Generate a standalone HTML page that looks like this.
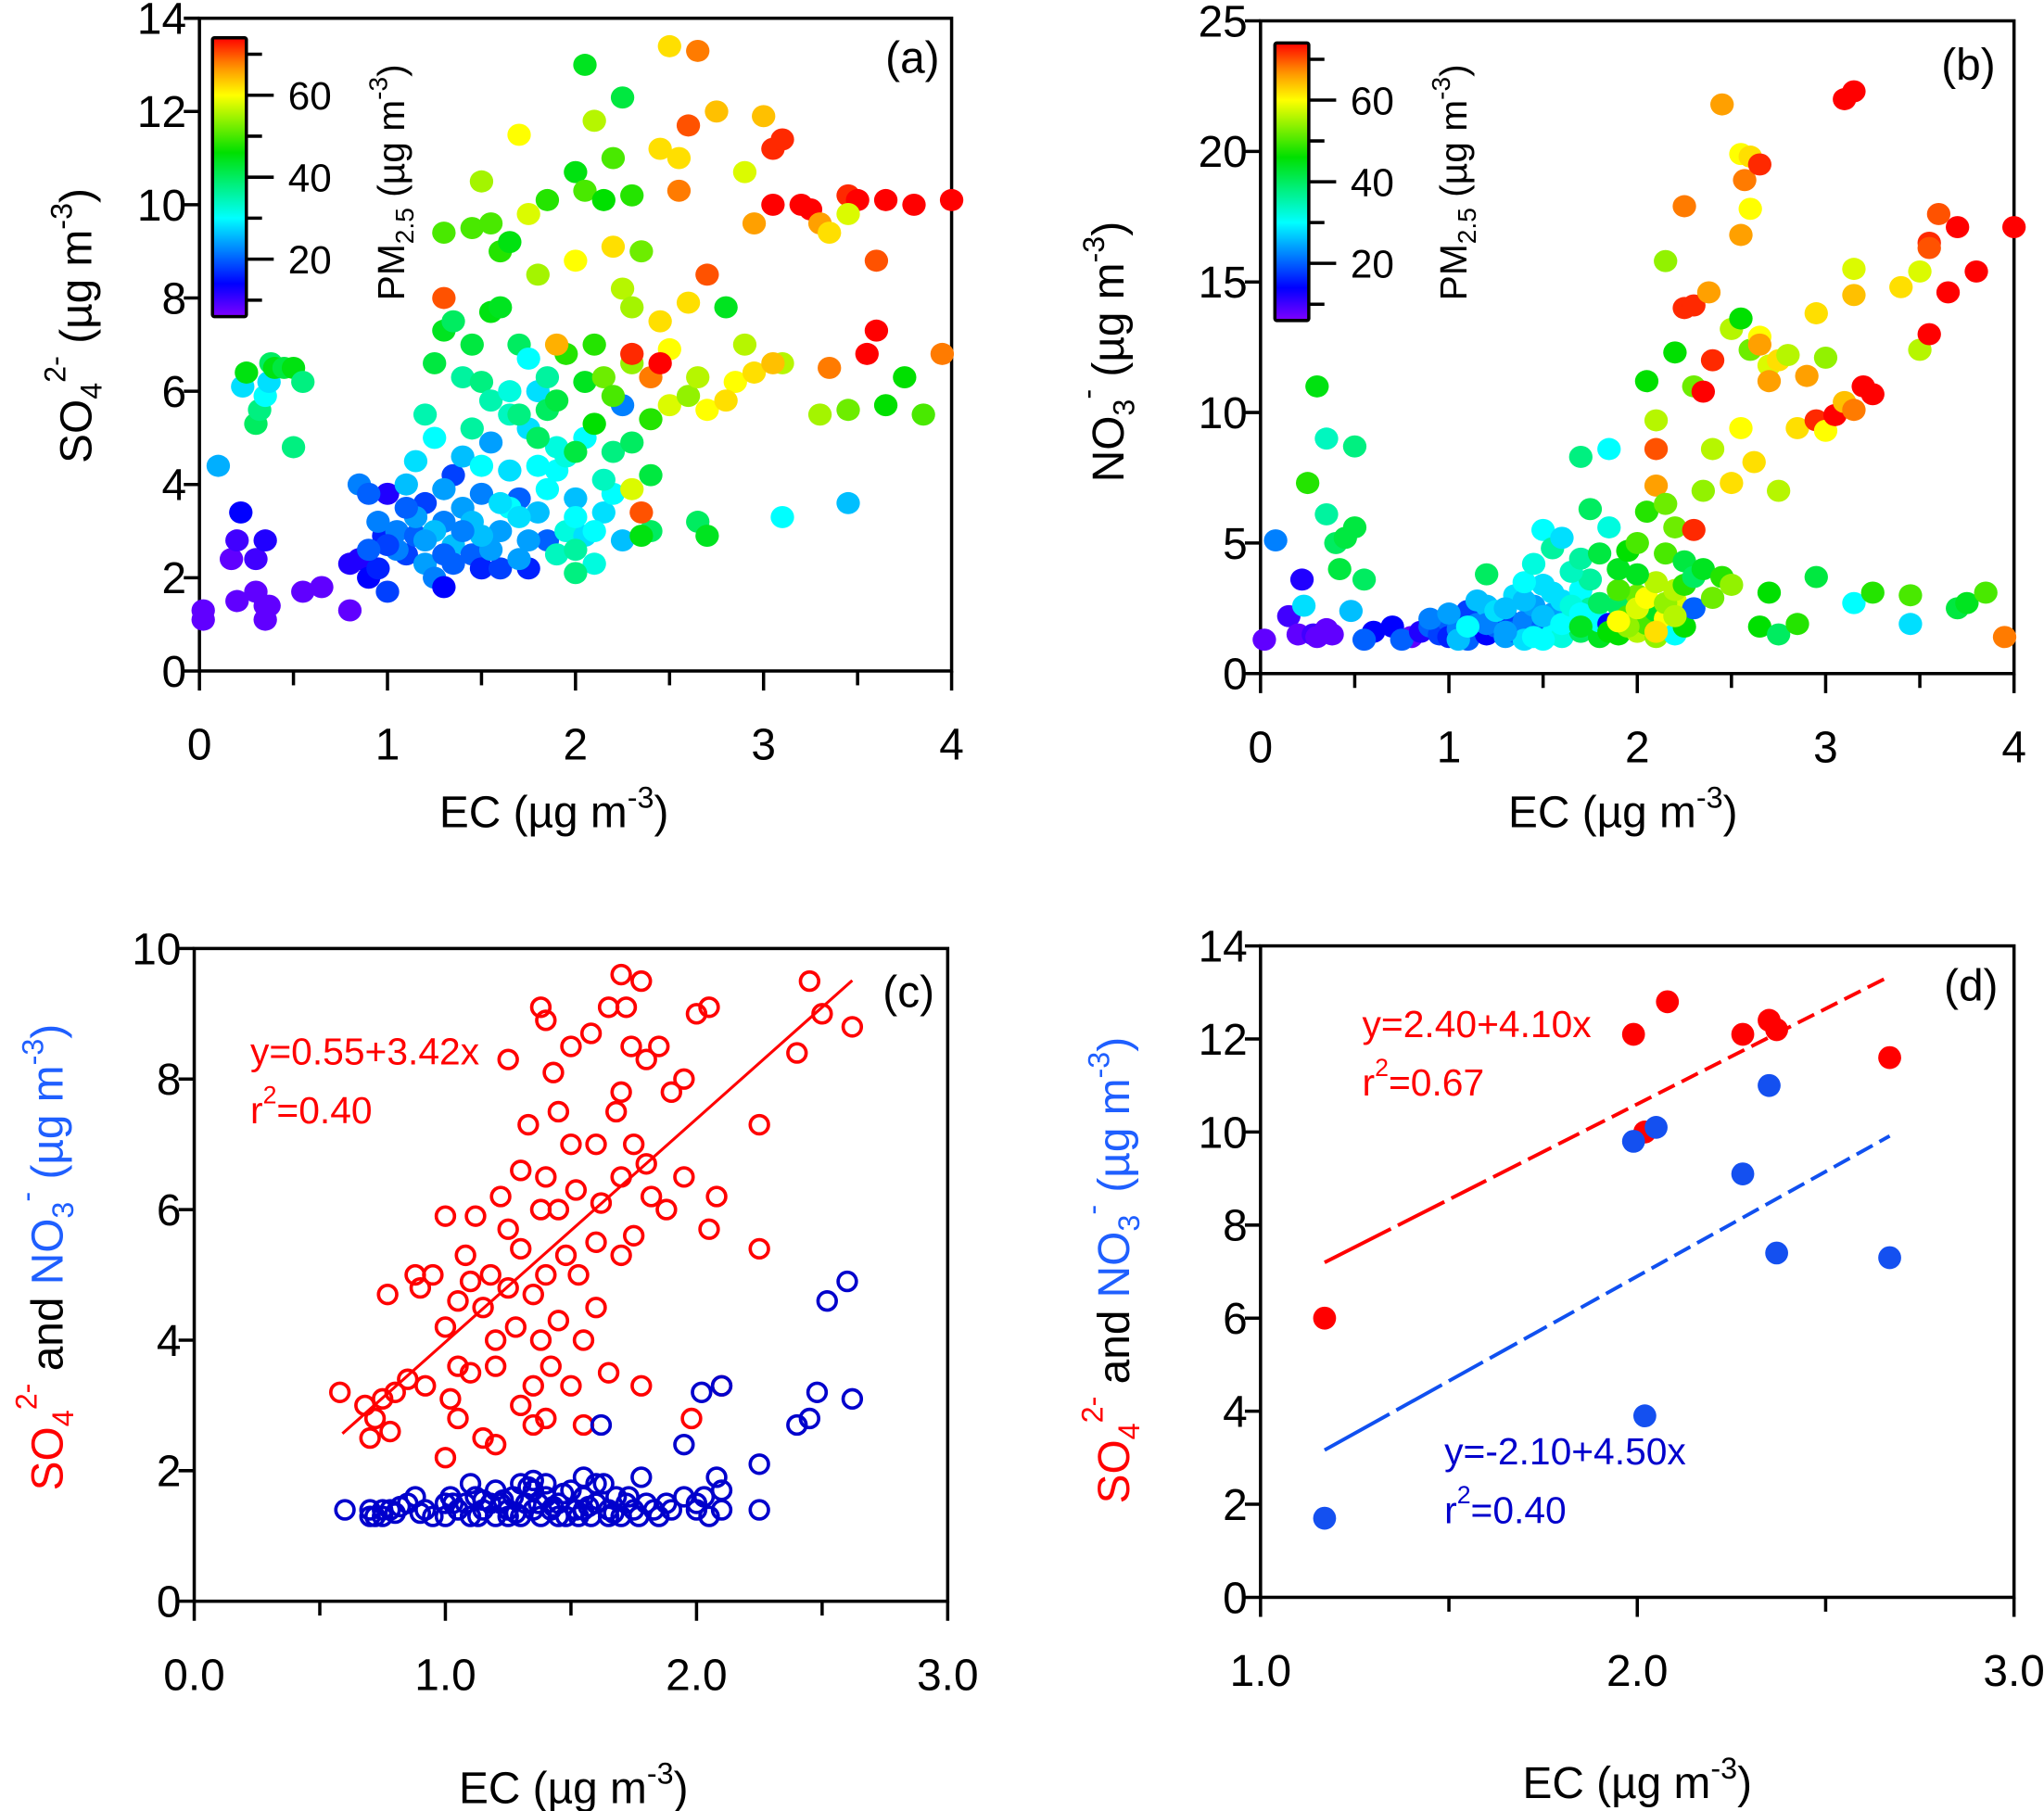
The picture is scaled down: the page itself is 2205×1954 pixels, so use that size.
<!DOCTYPE html>
<html><head><meta charset="utf-8">
<style>
html,body{margin:0;padding:0;background:#fff;}
svg{display:block;font-family:"Liberation Sans",Arial,sans-serif;}
</style></head>
<body>
<svg id="chart" xmlns="http://www.w3.org/2000/svg" width="2205" height="1954" viewBox="0 0 1568 1390" preserveAspectRatio="none">
<defs>
<linearGradient id="cmap" x1="0" y1="1" x2="0" y2="0"></linearGradient>
</defs>
<g id="static" font-size="34" fill="#000">
  <text transform="translate(70,250) rotate(-90)" text-anchor="middle">SO<tspan font-size="23" dy="8">4</tspan><tspan font-size="23" dy="-28">2-</tspan><tspan dy="20"> (µg m</tspan><tspan font-size="23" dy="-15">-3</tspan><tspan dy="15">)</tspan></text>
  <text x="425" y="635" text-anchor="middle">EC (µg m<tspan font-size="23" dy="-15">-3</tspan><tspan dy="15">)</tspan></text>
  <text transform="translate(310,140) rotate(-90)" text-anchor="middle" font-size="29">PM<tspan font-size="20" dy="7">2.5</tspan><tspan dy="-7"> (µg m</tspan><tspan font-size="20" dy="-13">-3</tspan><tspan dy="13">)</tspan></text>
  <text x="700" y="56" text-anchor="middle">(a)</text>
  <text transform="translate(862,270) rotate(-90)" text-anchor="middle">NO<tspan font-size="23" dy="8">3</tspan><tspan font-size="23" dy="-28">-</tspan><tspan dy="20">  (µg m</tspan><tspan font-size="23" dy="-15">-3</tspan><tspan dy="15">)</tspan></text>
  <text x="1245" y="635" text-anchor="middle">EC (µg m<tspan font-size="23" dy="-15">-3</tspan><tspan dy="15">)</tspan></text>
  <text transform="translate(1125,140) rotate(-90)" text-anchor="middle" font-size="29">PM<tspan font-size="20" dy="7">2.5</tspan><tspan dy="-7"> (µg m</tspan><tspan font-size="20" dy="-13">-3</tspan><tspan dy="13">)</tspan></text>
  <text x="1510" y="61" text-anchor="middle">(b)</text>
  <text transform="translate(48,965) rotate(-90)" text-anchor="middle"><tspan fill="#ff0000">SO</tspan><tspan fill="#ff0000" font-size="23" dy="8">4</tspan><tspan fill="#ff0000" font-size="23" dy="-28">2-</tspan><tspan dy="20"> and </tspan><tspan fill="#1f5fff">NO</tspan><tspan fill="#1f5fff" font-size="23" dy="8">3</tspan><tspan fill="#1f5fff" font-size="23" dy="-28">-</tspan><tspan fill="#1f5fff" dy="20"> (µg m</tspan><tspan fill="#1f5fff" font-size="23" dy="-15">-3</tspan><tspan fill="#1f5fff" dy="15">)</tspan></text>
  <text x="440" y="1384" text-anchor="middle">EC (µg m<tspan font-size="23" dy="-15">-3</tspan><tspan dy="15">)</tspan></text>
  <text x="697" y="773" text-anchor="middle">(c)</text>
  <text x="192" y="817" fill="#ff0000" font-size="29">y=0.55+3.42x</text>
  <text x="192" y="862" fill="#ff0000" font-size="29">r<tspan font-size="19" dy="-15">2</tspan><tspan dy="15">=0.40</tspan></text>
  <text transform="translate(866,975) rotate(-90)" text-anchor="middle"><tspan fill="#ff0000">SO</tspan><tspan fill="#ff0000" font-size="23" dy="8">4</tspan><tspan fill="#ff0000" font-size="23" dy="-28">2-</tspan><tspan dy="20"> and </tspan><tspan fill="#1f5fff">NO</tspan><tspan fill="#1f5fff" font-size="23" dy="8">3</tspan><tspan fill="#1f5fff" font-size="23" dy="-28">-</tspan><tspan fill="#1f5fff" dy="20"> (µg m</tspan><tspan fill="#1f5fff" font-size="23" dy="-15">-3</tspan><tspan fill="#1f5fff" dy="15">)</tspan></text>
  <text x="1256" y="1380" text-anchor="middle">EC (µg m<tspan font-size="23" dy="-15">-3</tspan><tspan dy="15">)</tspan></text>
  <text x="1512" y="768" text-anchor="middle">(d)</text>
  <text x="1045" y="796" fill="#ff0000" font-size="29">y=2.40+4.10x</text>
  <text x="1045" y="841" fill="#ff0000" font-size="29">r<tspan font-size="19" dy="-15">2</tspan><tspan dy="15">=0.67</tspan></text>
  <text x="1108" y="1124" fill="#0000cc" font-size="29">y=-2.10+4.50x</text>
  <text x="1108" y="1169" fill="#0000cc" font-size="29">r<tspan font-size="19" dy="-15">2</tspan><tspan dy="15">=0.40</tspan></text>
</g>
</svg>
<script>
// ---------- Panel (a) data: EC, SO4, PM2.5 ----------
const aEC=[0.02,0.02,0.17,0.2,0.2,0.22,0.3,0.3,0.35,0.35,0.35,0.37,0.55,0.65,0.8,0.8,0.85,0.9,0.95,1.0,0.98,1.0,
0.1,0.23,0.25,0.3,0.32,0.35,0.37,0.38,0.4,0.45,0.5,0.5,0.55,
0.85,0.9,0.95,1.05,1.1,1.15,1.2,1.2,1.25,1.3,1.3,1.35,1.35,1.4,1.4,1.45,1.5,1.5,1.55,1.6,1.6,1.65,1.7,1.75,1.75,1.8,1.8,1.85,1.9,1.95,2.0,2.05,2.1,2.15,2.2,2.25,2.25,
1.05,1.15,1.25,1.35,1.45,1.55,1.65,1.75,1.85,1.95,2.05,2.15,1.1,1.3,1.5,1.7,1.9,2.1,1.2,1.4,1.6,1.8,2.0,2.2,1.25,1.45,1.65,1.85,
1.15,1.2,1.25,1.3,1.35,1.4,1.45,1.5,1.55,1.55,1.6,1.65,1.7,1.7,1.75,1.8,1.85,1.9,1.95,2.0,2.05,2.1,2.1,2.15,2.2,2.3,2.3,2.4,2.4,2.4,1.0,1.1,0.9,1.7,2.0,1.3,1.5,1.9,2.0,
1.3,1.45,1.5,1.55,1.6,1.65,1.7,1.75,1.8,1.85,2.0,2.05,2.05,2.1,2.15,2.2,2.25,2.3,2.35,2.2,2.25,2.0,2.3,2.45,2.5,2.55,2.55,2.6,2.65,2.75,2.9,3.0,3.05,3.1,2.95,3.05,3.2,3.25,3.3,3.35,3.45,3.5,3.65,3.8,4.0,3.45,3.6,3.6,3.55,3.95,3.75,3.65,3.85,3.45,3.3,3.35,3.1,2.85,2.95,3.05,2.7,2.6,2.8,2.9,2.5,2.45,2.5,2.6,2.7,2.8,2.65,3.45,3.1,2.65,2.35,2.4,2.45,2.3,1.3,1.9,2.7,2.3,2.35];
const aSO4=[1.3,1.1,2.4,1.5,2.8,3.4,2.4,1.7,1.4,1.1,2.8,1.4,1.7,1.8,1.3,2.3,2.4,2.0,2.2,1.7,2.9,3.8,
4.4,6.1,6.4,5.3,5.6,5.9,6.2,6.6,6.5,6.5,6.5,4.8,6.2,
4.0,3.8,3.2,3.0,2.5,2.9,3.6,2.3,2.0,1.8,3.2,4.2,2.7,3.5,4.6,2.5,3.8,2.2,4.9,3.0,2.2,4.3,3.7,2.2,5.2,3.4,6.0,2.8,4.3,3.0,3.7,5.0,2.3,3.4,3.8,5.7,2.8,
2.6,3.3,3.0,2.3,3.2,2.6,3.5,2.8,3.9,4.6,2.9,4.1,4.0,2.5,2.9,3.3,4.8,3.0,2.8,3.0,3.6,4.4,3.3,4.7,5.0,5.2,5.5,5.6,
4.5,5.5,6.6,7.3,7.5,6.3,7.0,6.2,7.7,5.8,7.8,6.0,7.0,5.5,6.7,5.0,6.3,5.8,6.8,4.7,6.2,5.3,7.0,6.3,5.9,6.6,4.9,5.4,4.2,3.0,2.7,3.5,2.6,2.4,2.1,3.9,4.4,2.5,2.6,
9.4,9.5,10.5,9.6,9.0,9.2,11.5,9.8,8.5,10.1,10.7,13.0,10.3,11.8,10.1,11.0,12.3,10.2,9.0,9.1,8.2,8.8,7.8,11.2,13.4,11.0,10.3,11.7,13.3,12.0,10.7,11.9,11.2,11.4,9.6,10.0,10.0,9.9,9.6,9.4,10.2,10.1,10.1,10.0,10.1,9.8,8.8,7.3,6.8,6.8,6.3,5.7,5.5,5.6,5.5,6.5,6.6,6.2,6.4,6.6,8.5,7.9,7.8,7.0,6.9,7.5,5.7,5.9,5.6,5.8,6.3,3.6,3.3,3.2,3.4,6.3,6.6,6.8,8.0,7.0,2.9,3.9,2.9];
const aPM=[8,8,8,8,10,14,10,8,8,8,12,8,8,8,8,12,12,14,16,18,16,12,
25,28,45,40,38,30,28,40,45,42,45,38,38,
22,20,22,22,18,20,18,24,22,14,22,18,26,24,26,20,22,16,24,24,18,28,20,16,28,26,28,20,30,32,26,30,32,28,30,22,26,
22,24,26,20,26,24,30,24,30,32,28,34,26,20,26,28,32,30,24,22,28,30,30,38,30,36,34,40,
28,35,42,44,40,36,42,38,45,35,44,32,40,38,30,40,36,42,48,42,44,46,48,52,50,54,40,48,42,40,18,20,20,24,38,24,30,34,36,
50,50,55,50,48,45,60,58,55,48,45,44,50,56,46,50,42,48,52,62,56,60,55,62,62,62,68,70,68,64,58,64,72,72,66,74,74,74,66,62,72,74,74,74,74,58,70,74,74,68,46,46,50,52,55,68,56,60,62,64,70,62,44,56,60,62,58,54,60,62,56,26,30,40,70,68,74,72,70,65,44,58,45];

// ---------- Panel (b) data: EC, NO3, PM2.5 ----------
const bEC=[0.02,0.08,0.15,0.2,0.22,0.23,0.28,0.3,0.35,0.38,0.25,0.3,0.35,0.4,0.45,0.5,0.5,0.42,0.35,0.48,0.55,0.6,0.55,0.7,0.8,0.75,0.85,
0.9,0.95,1.0,1.0,1.05,1.1,1.1,1.15,1.2,1.2,1.25,1.3,1.3,1.35,1.35,1.4,1.4,1.45,1.5,1.5,1.55,1.55,1.6,1.6,1.65,1.7,1.7,1.75,1.8,1.8,1.85,1.9,1.9,1.95,2.0,2.0,2.05,2.1,2.1,2.15,2.2,2.2,2.25,2.3,
0.9,1.0,1.05,1.15,1.2,1.25,1.3,1.4,1.45,1.5,1.55,1.6,1.65,1.7,1.75,1.8,1.85,1.9,1.95,2.0,2.05,2.1,2.15,2.2,1.1,1.3,1.5,1.7,1.9,2.1,
1.2,1.4,1.45,1.5,1.55,1.6,1.65,1.7,1.7,1.75,1.8,1.85,1.85,1.9,1.95,2.0,2.0,2.05,2.05,2.1,2.1,2.15,2.15,2.2,2.2,2.25,2.25,2.3,2.3,2.35,2.4,2.45,2.5,
2.1,2.15,2.2,2.25,2.25,2.3,2.3,2.35,2.38,2.4,2.45,2.5,2.55,2.55,2.57,2.6,2.6,2.65,2.55,2.6,2.65,2.7,2.75,2.62,2.5,2.55,2.4,2.35,2.75,2.8,2.85,2.9,2.95,2.95,3.0,3.0,3.05,3.1,3.15,3.2,3.25,3.15,3.15,3.1,3.15,3.4,3.5,3.5,3.55,3.55,3.6,3.65,3.7,3.8,4.0,3.55,
2.7,2.65,2.75,2.95,2.85,3.15,3.25,3.45,3.45,3.7,3.75,3.85,3.95,2.65,2.7];
const bNO3=[1.3,5.1,2.2,1.5,3.6,2.6,1.5,1.4,1.7,1.5,7.3,11.0,9.0,5.0,5.2,5.6,8.7,4.0,6.1,2.4,3.6,1.6,1.3,1.8,1.4,1.3,1.6,
1.8,1.5,2.0,1.4,1.7,2.4,1.3,1.9,1.5,2.6,1.8,1.4,2.2,1.6,3.0,2.0,1.3,2.6,1.8,3.4,1.5,2.3,2.8,1.4,2.0,3.2,1.6,2.5,1.4,2.0,1.9,2.6,1.5,2.2,1.6,3.0,1.9,2.4,1.4,2.1,1.5,2.8,1.8,2.5,
2.1,2.3,1.3,2.8,1.9,2.4,1.6,2.8,1.4,2.2,3.1,1.9,2.6,2.3,3.6,2.7,1.6,3.2,1.8,2.5,2.9,1.6,2.7,2.2,1.8,2.5,1.3,1.8,2.0,3.5,
3.8,3.5,4.2,5.5,4.8,5.2,3.9,4.4,8.3,6.3,4.6,8.6,5.6,4.0,4.7,3.8,5.0,6.2,11.2,8.6,7.2,6.5,4.6,5.6,3.2,4.3,3.4,5.5,3.7,4.0,2.9,3.7,3.4,
9.7,15.8,12.3,14.0,17.9,14.1,11.0,10.8,14.6,12.0,21.8,13.2,19.9,16.8,18.9,19.8,17.8,19.5,13.6,12.4,12.9,11.8,12.0,8.1,7.3,9.4,8.6,7.0,7.0,12.2,9.4,11.4,13.8,9.7,9.3,12.1,9.9,10.4,10.1,11.0,10.7,14.5,15.5,22.0,22.3,14.8,15.4,12.4,16.5,13.0,17.6,14.6,17.1,15.4,17.1,16.3,
3.1,1.8,1.5,3.7,1.9,2.7,3.1,3.0,1.9,2.5,2.7,3.1,1.4,12.6,11.2];
const bPM=[8,22,10,8,12,28,10,8,8,8,48,45,34,40,42,42,38,42,36,26,40,14,20,14,8,20,12,
20,18,20,16,22,18,20,22,14,26,20,24,18,20,28,22,28,24,20,28,30,24,28,32,26,30,40,36,44,30,14,40,46,50,56,52,50,44,54,60,30,58,46,20,
22,24,26,26,22,28,24,26,30,26,28,30,32,30,36,40,46,50,54,58,60,62,54,56,30,26,30,44,60,56,
40,30,32,30,36,28,34,36,38,40,42,30,32,44,46,44,50,48,46,70,66,52,50,52,56,42,48,72,40,44,52,48,54,
56,54,46,72,68,72,52,74,66,72,66,56,60,66,68,62,60,72,46,52,60,58,62,62,62,60,56,54,56,56,62,66,62,72,60,54,74,64,68,74,74,64,58,74,74,62,58,56,72,74,70,74,74,74,74,70,
46,46,40,42,48,30,48,50,28,42,44,50,68,66,66];

// ---------- Panel (c) data ----------
const cSO4EC=[0.58,0.68,0.7,0.72,0.75,0.77,0.8,0.85,0.88,0.9,0.92,0.95,1.0,1.0,1.02,1.05,1.05,1.08,1.1,1.1,1.12,1.15,1.15,1.18,1.2,1.2,1.22,1.25,1.25,1.25,1.28,1.3,1.3,1.3,1.33,1.35,1.35,1.35,1.38,1.38,1.38,1.4,1.4,1.4,1.4,1.42,1.43,1.45,1.45,1.45,1.48,1.5,1.5,1.5,1.52,1.53,1.55,1.55,1.58,1.6,1.6,1.62,1.65,1.65,1.68,1.7,1.7,1.7,1.72,1.74,1.75,1.75,1.78,1.78,1.8,1.8,1.82,1.85,1.88,1.9,1.95,1.95,2.0,2.05,2.05,2.08,1.98,2.1,2.25,2.25,2.4,2.45,2.5,2.62,1.0,1.2,1.05,0.78,1.6,1.7];
const cSO4=[3.2,3.0,2.5,2.8,3.1,4.7,3.2,3.4,5.0,4.8,3.3,5.0,5.9,4.2,3.1,2.8,4.6,5.3,4.9,3.5,5.9,2.5,4.5,5.0,4.0,3.6,6.2,8.3,5.7,4.8,4.2,5.4,3.0,6.6,7.3,4.7,3.3,2.7,9.1,6.0,4.0,8.9,6.5,5.0,2.8,3.6,8.1,7.5,6.0,4.3,5.3,7.0,3.3,8.5,6.3,5.0,4.0,2.7,8.7,7.0,5.5,6.1,3.5,9.1,7.5,9.6,6.5,5.3,9.1,8.5,7.0,5.6,3.3,9.5,6.7,8.3,6.2,8.5,6.0,7.8,8.0,6.5,9.0,9.1,5.7,6.2,2.8,3.3,7.3,5.4,8.4,9.5,9.0,8.8,2.2,2.4,3.6,2.6,4.5,7.8];
const cNO3EC=[0.6,0.7,0.72,0.75,0.8,0.85,0.88,0.92,0.95,1.0,1.0,1.02,1.05,1.08,1.1,1.1,1.12,1.15,1.18,1.2,1.2,1.22,1.25,1.27,1.3,1.3,1.32,1.35,1.35,1.38,1.4,1.4,1.42,1.45,1.48,1.5,1.52,1.55,1.55,1.58,1.6,1.6,1.62,1.65,1.68,1.7,1.72,1.75,1.78,1.8,1.85,1.9,1.95,2.0,2.0,2.05,2.08,2.1,2.1,2.25,2.25,1.95,2.02,2.1,2.4,2.45,2.48,2.52,2.6,2.62,0.7,0.78,1.25,1.45,1.65,
0.75,0.82,0.9,1.03,1.13,1.23,1.28,1.33,1.37,1.43,1.47,1.53,1.57,1.63,1.67,1.73,1.77,1.83,1.88,2.03,1.15,1.35,1.55];
const cNO3=[1.4,1.4,1.3,1.4,1.35,1.5,1.6,1.4,1.3,1.5,1.3,1.6,1.4,1.5,1.3,1.8,1.6,1.4,1.5,1.3,1.7,1.5,1.4,1.6,1.3,1.8,1.5,1.4,1.7,1.3,1.6,1.8,1.4,1.5,1.3,1.7,1.4,1.6,1.9,1.3,1.5,1.8,2.7,1.4,1.6,1.3,1.5,1.4,1.9,1.5,1.3,1.4,1.6,1.4,1.5,1.3,1.9,1.4,1.7,1.4,2.1,2.4,3.2,3.3,2.7,2.8,3.2,4.6,4.9,3.1,1.3,1.4,1.3,1.3,1.3,
1.3,1.45,1.35,1.5,1.3,1.55,1.35,1.75,1.5,1.45,1.65,1.3,1.45,1.8,1.35,1.6,1.3,1.4,1.5,1.6,1.55,1.85,1.4];
const cFitX=[0.59,2.62];
const cIntercept=0.55, cSlope=3.42;

// ---------- Panel (d) data ----------
const dEC=[1.17,1.99,2.08,2.02,2.28,2.35,2.37,2.67];
const dSO4=[6.0,12.1,12.8,10.0,12.1,12.4,12.2,11.6];
const dNO3EC=[1.17,1.99,2.05,2.02,2.28,2.35,2.37,2.67];
const dNO3=[1.7,9.8,10.1,3.9,9.1,11.0,7.4,7.3];
const dFitX=[1.17,2.67];
const dSO4Fit=[2.40,4.10];
const dNO3Fit=[-2.10,4.50];

// ---------- Tick labels ----------
const aXTicks=['0','1','2','3','4'];
const aYTicks=['0','2','4','6','8','10','12','14'];
const bYTicks=['0','5','10','15','20','25'];
const cXTicks=['0.0','1.0','2.0','3.0'];
const cYTicks=['0','2','4','6','8','10'];
const dXTicks=['1.0','2.0','3.0'];
const dYTicks=['0','2','4','6','8','10','12','14'];
const cbTicks=['20','40','60'];

const NS='http://www.w3.org/2000/svg';
const svg=document.getElementById('chart');
function mk(tag,attrs,parent){const e=document.createElementNS(NS,tag);for(const k in attrs)e.setAttribute(k,attrs[k]);(parent||svg).appendChild(e);return e;}

const cmStops=[[6,[128,0,255]],[14,[0,0,255]],[30,[0,255,255]],[46,[0,224,0]],[60,[255,255,0]],[67,[255,144,0]],[74,[255,0,0]]];
function cmap(v){
  if(v<=cmStops[0][0])return 'rgb('+cmStops[0][1].join(',')+')';
  for(let i=1;i<cmStops.length;i++){
    if(v<=cmStops[i][0]){const a=cmStops[i-1],b=cmStops[i];const t=(v-a[0])/(b[0]-a[0]);
      const c=a[1].map((x,j)=>Math.round(x+(b[1][j]-x)*t));return 'rgb('+c.join(',')+')';}
  }
  return 'rgb(255,0,0)';
}
const grad=document.getElementById('cmap');
for(let v=6;v<=74;v+=2){mk('stop',{offset:((v-6)/68).toFixed(3),'stop-color':cmap(v)},grad);}

function panel(p){
  const g=mk('g',{});
  
  
  const sx=v=>p.px0+(v-p.xmin)/(p.xmax-p.xmin)*(p.px1-p.px0);
  const sy=v=>p.py0-(v-p.ymin)/(p.ymax-p.ymin)*(p.py0-p.py1);
  const frame=mk('rect',{x:p.px0,y:p.py1,width:p.px1-p.px0,height:p.py0-p.py1,fill:'none',stroke:'#000','stroke-width':2.5},g);
  
  
  for(let v=p.xmin;v<=p.xmax+1e-9;v+=p.xminor){
    const major=Math.abs((v-p.xmin)/p.xmaj-Math.round((v-p.xmin)/p.xmaj))<1e-6;
    mk('line',{x1:sx(v),x2:sx(v),y1:p.py0,y2:p.py0+(major?15:11),stroke:'#000','stroke-width':2.5},g);
  }
  p.xlabels.forEach((t,i)=>{
    const tx=mk('text',{x:sx(p.xmin+i*p.xmaj),y:p.py0+68,'text-anchor':'middle','font-size':34},g);
    tx.textContent=t;
    
    
  });
  for(let v=p.ymin;v<=p.ymax+1e-9;v+=p.yminor){
    mk('line',{x1:p.px0,x2:p.px0-12,y1:sy(v),y2:sy(v),stroke:'#000','stroke-width':2.5},g);
  }
  p.ylabels.forEach((t,i)=>{
    const ty=mk('text',{x:p.px0-10,y:sy(p.ymin+i*p.ymaj)+12,'text-anchor':'end','font-size':34},g);
    ty.textContent=t;
    
    
  });
  return {sx,sy};
}

function colorbar(name,x,yTop,yBot,vTop,vBot){
  const g=mk('g',{});
  
  
  mk('rect',{x:x,y:yTop,width:26,height:yBot-yTop,fill:'url(#cmap)',stroke:'#000','stroke-width':2.5,rx:1.5},g);
  const sv=v=>yBot-(v-vBot)/(vTop-vBot)*(yBot-yTop);
  for(let v=10;v<=70;v+=10){const maj=v%20===0;
    mk('line',{x1:x+26,x2:x+26+(maj?21:12),y1:sv(v),y2:sv(v),stroke:'#000','stroke-width':2.5},g);}
  cbTicks.forEach(t=>{const tt=mk('text',{x:x+58,y:sv(+t)+11,'font-size':30,'text-anchor':'start'},g);
    tt.textContent=t;
    
    });
}

const A=panel({name:'a',px0:153,px1:730,py0:515,py1:14,xmin:0,xmax:4,ymin:0,ymax:14,xmaj:1,xminor:0.5,ymaj:2,yminor:2,xlabels:aXTicks,ylabels:aYTicks});
const ga=mk('g',{});


aEC.forEach((x,i)=>{const c=mk('ellipse',{cx:A.sx(x),cy:A.sy(aSO4[i]),rx:9,ry:8.5,fill:cmap(aPM[i])},ga);
  
  });
colorbar('a',163,29,243,74,6);

const B=panel({name:'b',px0:967,px1:1545,py0:517,py1:16,xmin:0,xmax:4,ymin:0,ymax:25,xmaj:1,xminor:0.5,ymaj:5,yminor:5,xlabels:aXTicks,ylabels:bYTicks});
const gb=mk('g',{});


bEC.forEach((x,i)=>{const c=mk('ellipse',{cx:B.sx(x),cy:B.sy(bNO3[i]),rx:9,ry:8.5,fill:cmap(bPM[i])},gb);
  
  });
colorbar('b',978,33,246,74,6);

const C=panel({name:'c',px0:149,px1:727,py0:1229,py1:728,xmin:0,xmax:3,ymin:0,ymax:10,xmaj:1,xminor:0.5,ymaj:2,yminor:2,xlabels:cXTicks,ylabels:cYTicks});
const gcr=mk('g',{});


cSO4EC.forEach((x,i)=>{const c=mk('circle',{cx:C.sx(x),cy:C.sy(cSO4[i]),r:7,fill:'none',stroke:'#ff0000','stroke-width':2.6},gcr);
  
  });
const gcb=mk('g',{});


cNO3EC.forEach((x,i)=>{const c=mk('circle',{cx:C.sx(x),cy:C.sy(cNO3[i]),r:7,fill:'none',stroke:'#0000cc','stroke-width':2.6},gcb);
  
  });
const cl=mk('line',{x1:C.sx(cFitX[0]),y1:C.sy(cIntercept+cSlope*cFitX[0]),x2:C.sx(cFitX[1]),y2:C.sy(cIntercept+cSlope*cFitX[1]),stroke:'#ff0000','stroke-width':2.2});



const D=panel({name:'d',px0:967,px1:1545,py0:1226,py1:726,xmin:1,xmax:3,ymin:0,ymax:14,xmaj:1,xminor:0.5,ymaj:2,yminor:2,xlabels:dXTicks,ylabels:dYTicks});
const dash='57 6 40 6 30 6 24 6 20 6 18 6 16 6 14 6 14 6 14 6 14 6 14 6 14 6 14 6 14 6 14 6 14 6 14 6 14 6 14 6 14 6 14 6 14 6 14 6 14 6 14 6 14 6 14 6';
const l1=mk('line',{x1:D.sx(dFitX[0]),y1:D.sy(dSO4Fit[0]+dSO4Fit[1]*dFitX[0]),x2:D.sx(dFitX[1]),y2:D.sy(dSO4Fit[0]+dSO4Fit[1]*dFitX[1]),stroke:'#ff0000','stroke-width':2.8,'stroke-dasharray':dash});


const l2=mk('line',{x1:D.sx(dFitX[0]),y1:D.sy(dNO3Fit[0]+dNO3Fit[1]*dFitX[0]),x2:D.sx(dFitX[1]),y2:D.sy(dNO3Fit[0]+dNO3Fit[1]*dFitX[1]),stroke:'#1050f0','stroke-width':2.8,'stroke-dasharray':dash});


dEC.forEach((x,i)=>{const c=mk('circle',{cx:D.sx(x),cy:D.sy(dSO4[i]),r:8.8,fill:'#ff0000'});
  
  });
dNO3EC.forEach((x,i)=>{const c=mk('circle',{cx:D.sx(x),cy:D.sy(dNO3[i]),r:8.8,fill:'#1450f0'});
  
  });
svg.appendChild(document.getElementById('static'));
</script>
</body></html>
